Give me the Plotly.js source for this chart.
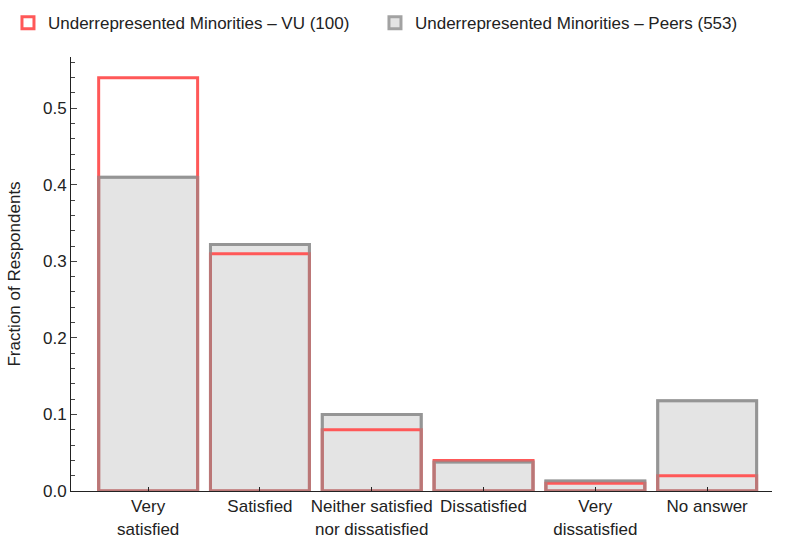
<!DOCTYPE html>
<html>
<head>
<meta charset="utf-8">
<script src="https://cdn.plot.ly/plotly-3.0.1.min.js"></script>
<style>html,body{margin:0;padding:0;background:#fff;}#chart{width:785px;height:557px;}</style>
</head>
<body>
<div id="chart"></div>
<script>
const categories = ["Very<br>satisfied", "Satisfied", "Neither satisfied<br>nor dissatisfied", "Dissatisfied", "Very<br>dissatisfied", "No answer"];
const vuValues = [0.54, 0.31, 0.08, 0.04, 0.01, 0.02];
const peerValues = [0.41, 0.322, 0.10, 0.038, 0.013, 0.118];
const vuName = "Underrepresented Minorities \u2013 VU (100)";
const peerName = "Underrepresented Minorities \u2013 Peers (553)";

const W = 0.885;
const traces = [
  {type:'bar', x:categories, y:peerValues, name:peerName, width:W, legendrank:2,
   marker:{color:'rgb(228,228,228)', line:{color:'rgb(162,162,162)', width:3}}, hoverinfo:'skip'},
  {type:'bar', x:categories, y:vuValues, name:vuName, width:W, legendrank:1,
   marker:{color:'rgba(0,0,0,0)', line:{color:'rgb(255,88,88)', width:3}}, hoverinfo:'skip'},
  {type:'bar', x:categories, y:peerValues, name:peerName, width:W, showlegend:false,
   marker:{color:'rgba(0,0,0,0)', line:{color:'rgba(140,140,140,0.6)', width:3}}, hoverinfo:'skip'}
];

const layout = {
  width:785, height:557,
  margin:{l:71, r:13, t:57, b:66, autoexpand:false},
  paper_bgcolor:'#fff', plot_bgcolor:'#fff',
  barmode:'overlay',
  font:{family:'"Liberation Sans", Arial, sans-serif', size:17, color:'#222'},
  showlegend:true,
  legend:{orientation:'h', x:-0.0899, xanchor:'left', y:1.078, yanchor:'middle',
          font:{size:17, color:'#222'}, tracegroupgap:0, entrywidth:322},
  xaxis:{type:'category', range:[-0.69, 5.58], showline:true, linecolor:'#222', linewidth:1,
         ticks:'inside', ticklen:4, tickcolor:'#222', showgrid:false, zeroline:false,
         tickfont:{size:17, color:'#222'}, fixedrange:true},
  yaxis:{range:[0, 0.567], showline:true, linecolor:'#222', linewidth:1,
         ticks:'inside', ticklen:6, tickcolor:'#444', dtick:0.1, tickformat:'.1f',
         minor:{dtick:0.02, ticks:'inside', ticklen:4, tickcolor:'#444'},
         showgrid:false, zeroline:false, tickfont:{size:17, color:'#222'},
         title:{text:'Fraction of Respondents', font:{size:17, color:'#222'}, standoff:18}}
};

Plotly.newPlot('chart', traces, layout, {displayModeBar:false, staticPlot:true});
</script>
</body>
</html>
